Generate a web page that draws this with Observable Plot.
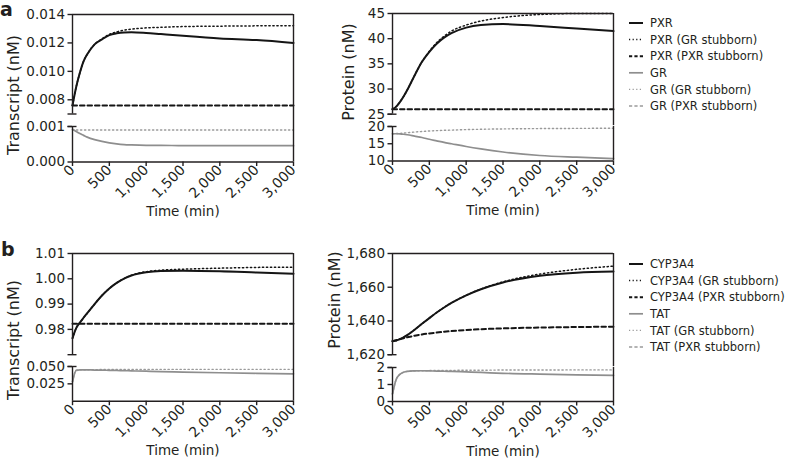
<!DOCTYPE html>
<html><head><meta charset="utf-8">
<script src="https://cdn.jsdelivr.net/npm/d3@7"></script>
<script src="https://cdn.jsdelivr.net/npm/@observablehq/plot@0.6"></script>
<style>
body{margin:0;background:#fff;}
#root{position:relative;width:788px;height:466px;overflow:hidden;font-family:"DejaVu Sans",sans-serif;color:#231f20;}
.ytitle{position:absolute;font-size:16px;white-space:nowrap;transform:translate(-50%,-50%) rotate(-90deg);line-height:1;}
.letter{position:absolute;font-size:19px;font-weight:bold;line-height:1;}
</style></head><body><div id="root"></div>
<script>
// ---------- data ----------
const time = [0, 50, 100, 150, 200, 300, 400, 500, 600, 700, 800, 1000, 1200, 1500, 2000, 2500, 3000];
const timeConst = [0, 3000];
const xTicks = [0, 500, 1000, 1500, 2000, 2500, 3000];

// panel a, transcript
const pxrTranscript    = [0.0076, 0.0089, 0.0099, 0.0107, 0.0112, 0.0119, 0.01225, 0.01255, 0.01268, 0.01274, 0.01275, 0.0127, 0.01262, 0.0125, 0.01232, 0.0122, 0.0120];
const pxrTranscriptGR  = [0.0076, 0.0089, 0.0099, 0.0107, 0.0112, 0.0119, 0.01228, 0.0126, 0.01278, 0.0129, 0.01297, 0.01306, 0.0131, 0.01315, 0.01318, 0.0132, 0.0132];
const pxrTranscriptPXR = [0.0076, 0.0076];
const grTranscript     = [0.00092, 0.00086, 0.0008, 0.00075, 0.0007, 0.00063, 0.00058, 0.00054, 0.00051, 0.00049, 0.00048, 0.00047, 0.00047, 0.00046, 0.00046, 0.00046, 0.00046];
const grTranscriptGR   = [0.0009, 0.0009];
// panel a, protein
const pxrProtein    = [26, 26.5, 27.4, 28.5, 29.8, 32.7, 35.4, 37.4, 39, 40.2, 41.1, 42.2, 42.7, 42.9, 42.5, 42, 41.5];
const pxrProteinGR  = [26, 26.5, 27.4, 28.5, 29.8, 32.7, 35.4, 37.5, 39.2, 40.5, 41.5, 42.7, 43.5, 44.2, 44.8, 45, 45];
const pxrProteinPXR = [26, 26];
const grProtein     = [17.9, 17.9, 17.85, 17.75, 17.6, 17.2, 16.8, 16.3, 15.85, 15.4, 15, 14.2, 13.5, 12.6, 11.6, 11.1, 10.7];
const grProteinGR   = [17.9, 17.95, 18.0, 18.1, 18.2, 18.4, 18.55, 18.7, 18.8, 18.9, 18.95, 19.1, 19.2, 19.3, 19.4, 19.45, 19.5];
// panel b, transcript
const cypTranscript    = [0.9765, 0.9805, 0.9827, 0.9846, 0.9864, 0.99, 0.9934, 0.9962, 0.9984, 1.0001, 1.0013, 1.0026, 1.0031, 1.0032, 1.003, 1.0025, 1.002];
const cypTranscriptGR  = [0.9765, 0.9805, 0.9827, 0.9846, 0.9864, 0.99, 0.9934, 0.9962, 0.9984, 1.0001, 1.0014, 1.0028, 1.0034, 1.0038, 1.0042, 1.0045, 1.0046];
const cypTranscriptPXR = [0.9822, 0.9822];
const tatTranscript    = [0.028, 0.0445, 0.0452, 0.0452, 0.0451, 0.0449, 0.0447, 0.0445, 0.0442, 0.044, 0.0437, 0.0432, 0.0427, 0.042, 0.041, 0.0402, 0.0395];
const tatTranscriptGR  = [0.028, 0.0445, 0.0452, 0.0453, 0.0454, 0.0455, 0.0456, 0.0456, 0.0457, 0.0457, 0.0457, 0.0458, 0.0458, 0.0458, 0.0459, 0.0459, 0.0459];
// panel b, protein
const cypProtein    = [1628, 1628.4, 1629.2, 1630.3, 1631.6, 1634.8, 1638.3, 1641.7, 1645, 1648, 1650.7, 1655.2, 1658.8, 1662.8, 1666.8, 1668.6, 1669.3];
const cypProteinGR  = [1628, 1628.4, 1629.2, 1630.3, 1631.6, 1634.8, 1638.3, 1641.7, 1645, 1648, 1650.7, 1655.2, 1658.9, 1663.2, 1667.8, 1670.6, 1672.5];
const cypProteinPXR = [1628, 1628.6, 1629.2, 1629.8, 1630.3, 1631.2, 1632, 1632.6, 1633.1, 1633.6, 1634, 1634.6, 1635.1, 1635.6, 1636.1, 1636.4, 1636.6];
const tatProtein    = [0.45, 1.3, 1.6, 1.72, 1.77, 1.8, 1.81, 1.8, 1.79, 1.78, 1.77, 1.74, 1.71, 1.66, 1.61, 1.57, 1.54];
const tatProteinGR  = [0.45, 1.3, 1.6, 1.72, 1.77, 1.8, 1.81, 1.82, 1.82, 1.83, 1.83, 1.84, 1.84, 1.85, 1.85, 1.86, 1.86];

const legendA = ["PXR", "PXR (GR stubborn)", "PXR (PXR stubborn)", "GR", "GR (GR stubborn)", "GR (PXR stubborn)"];
const legendB = ["CYP3A4", "CYP3A4 (GR stubborn)", "CYP3A4 (PXR stubborn)", "TAT", "TAT (GR stubborn)", "TAT (PXR stubborn)"];

// ---------- styles ----------
const ink = "#231f20";
const gray = "#8e8e8e";
const styles = {
  blackSolid:  {stroke: "#151515", strokeWidth: 2},
  blackDotted: {stroke: "#151515", strokeWidth: 1.5, strokeDasharray: "1.3,2.7"},
  blackDashed: {stroke: "#151515", strokeWidth: 2, strokeDasharray: "4.5,3"},
  graySolid:   {stroke: gray, strokeWidth: 1.7},
  grayDotted:  {stroke: "#9a9a9a", strokeWidth: 1.4, strokeDasharray: "1.3,2.7"},
  grayDashed:  {stroke: "#9a9a9a", strokeWidth: 1.6, strokeDasharray: "4,3"}
};
const legendStyles = ["blackSolid", "blackDotted", "blackDashed", "graySolid", "grayDotted", "grayDashed"];

const rows = (ts, vs) => ts.map((t, i) => ({t, v: vs[i]}));
const S = (t, v, style) => ({t, v, style});

const panels = [
  { svgLeft: 20, x0: 72, x1: 293,
    title: {text: "Transcript (nM)", x: 14, y: 95},
    up: {top: 13.5, bottom: 113, domain: [0.007, 0.014], ticks: [0.008, 0.010, 0.012, 0.014], fmt: d3.format(".3f"),
         series: [S(timeConst, pxrTranscriptPXR, "blackDashed"), S(time, pxrTranscriptGR, "blackDotted"), S(time, pxrTranscript, "blackSolid")]},
    lo: {top: 125.5, bottom: 161, domain: [0, 0.001], ticks: [0, 0.001], fmt: d3.format(".3f"),
         series: [S(timeConst, grTranscriptGR, "grayDotted"), S(time, grTranscript, "graySolid")]}
  },
  { svgLeft: 330, x0: 392, x1: 613,
    title: {text: "Protein (nM)", x: 349, y: 72},
    up: {top: 13.3, bottom: 114, domain: [25, 45], ticks: [25, 30, 35, 40, 45], fmt: d3.format("d"),
         series: [S(timeConst, pxrProteinPXR, "blackDashed"), S(time, pxrProteinGR, "blackDotted"), S(time, pxrProtein, "blackSolid")]},
    lo: {top: 125.5, bottom: 160, domain: [10, 20], ticks: [10, 15, 20], fmt: d3.format("d"),
         series: [S(time, grProteinGR, "grayDotted"), S(time, grProtein, "graySolid")]}
  },
  { svgLeft: 20, x0: 72, x1: 293,
    title: {text: "Transcript (nM)", x: 14, y: 340},
    up: {top: 253.3, bottom: 354.5, domain: [0.97, 1.01], ticks: [0.98, 0.99, 1.00, 1.01], fmt: d3.format(".2f"),
         series: [S(timeConst, cypTranscriptPXR, "blackDashed"), S(time, cypTranscriptGR, "blackDotted"), S(time, cypTranscript, "blackSolid")]},
    lo: {top: 366.3, bottom: 401, domain: [0, 0.05], ticks: [0.025, 0.05], fmt: d3.format(".3f"),
         series: [S(time, tatTranscriptGR, "grayDotted"), S(time, tatTranscript, "graySolid")]}
  },
  { svgLeft: 330, x0: 392, x1: 613,
    title: {text: "Protein (nM)", x: 335, y: 300},
    up: {top: 253.3, bottom: 354.5, domain: [1620, 1680], ticks: [1620, 1640, 1660, 1680], fmt: d3.format(","),
         series: [S(time, cypProteinPXR, "blackDashed"), S(time, cypProteinGR, "blackDotted"), S(time, cypProtein, "blackSolid")]},
    lo: {top: 366.5, bottom: 400.5, domain: [0, 2], ticks: [0, 1, 2], fmt: d3.format("d"),
         series: [S(time, tatProteinGR, "grayDotted"), S(time, tatProtein, "graySolid")]}
  }
];

const root = document.getElementById("root");

function place(node, left, top) {
  node.style.position = "absolute";
  node.style.left = left + "px";
  node.style.top = top + "px";
  root.appendChild(node);
}

function makeSegment(p, seg, lower) {
  const padTop = 9;
  const padBottom = lower ? 64 : 9;
  const svgWidth = p.x1 + 14 - p.svgLeft;
  const height = seg.bottom - seg.top + padTop + padBottom;
  const gap = p.lo.top - p.up.bottom;
  const marks = [];
  for (const s of seg.series) {
    marks.push(Plot.line(rows(s.t, s.v), {x: "t", y: "v", curve: "monotone-x", ...styles[s.style]}));
  }
  marks.push(Plot.ruleX([0], {stroke: ink, strokeWidth: 1.4}));
  marks.push(Plot.ruleX([3000], {stroke: ink, strokeWidth: 1.4, insetBottom: lower ? 0 : -gap}));
  if (lower) marks.push(Plot.ruleY([seg.domain[0]], {stroke: ink, strokeWidth: 1.4}));
  else marks.push(Plot.ruleY([seg.domain[1]], {stroke: ink, strokeWidth: 1.4}));
  const capY = lower ? seg.domain[1] : seg.domain[0];
  marks.push(Plot.ruleY([capY], {x1: 0, x2: 0, insetLeft: -4.5, insetRight: -4.5, stroke: ink, strokeWidth: 1.4}));
  marks.push(Plot.axisY({ticks: seg.ticks, tickFormat: seg.fmt, tickSize: 4.5, tickPadding: 3, strokeWidth: 1.4, fontSize: 13.5, label: null}));
  if (lower) {
    marks.push(Plot.axisX({ticks: xTicks, tickFormat: d3.format(","), tickRotate: -45, tickSize: 4.5, tickPadding: 1,
      strokeWidth: 1.4, fontSize: 14, label: null}));
    marks.push(Plot.axisX({ticks: [], label: "Time (min)", labelAnchor: "center", labelOffset: 54, labelArrow: "none", fontSize: 13.5}));
  }
  const svg = Plot.plot({
    width: svgWidth, height,
    marginLeft: p.x0 - p.svgLeft, marginRight: svgWidth - (p.x1 - p.svgLeft),
    marginTop: padTop, marginBottom: padBottom,
    x: {domain: [0, 3000], ...(lower ? {} : {axis: null})},
    y: {domain: seg.domain},
    style: {fontFamily: "DejaVu Sans, sans-serif", fontSize: "13px", color: ink, background: "transparent", overflow: "visible"},
    marks
  });
  place(svg, p.svgLeft, seg.top - padTop);
}

for (const p of panels) {
  makeSegment(p, p.up, false);
  makeSegment(p, p.lo, true);
  const t = document.createElement("div");
  t.className = "ytitle";
  t.textContent = p.title.text;
  t.style.left = p.title.x + "px";
  t.style.top = p.title.y + "px";
  root.appendChild(t);
}

// panel letters
for (const [ch, x, y] of [["a", 0, 0], ["b", 1, 240]]) {
  const d = document.createElement("div");
  d.className = "letter";
  d.textContent = ch;
  d.style.left = x + "px"; d.style.top = y + "px";
  root.appendChild(d);
}

// legends
function legend(labels, left, top) {
  const rowH = 16.6;
  const svg = d3.create("svg").attr("width", 788 - left).attr("height", rowH * labels.length + 6)
    .style("overflow", "visible");
  labels.forEach((lab, i) => {
    const st = styles[legendStyles[i]];
    const y = 8 + i * rowH;
    svg.append("line").attr("x1", 4).attr("x2", 18).attr("y1", y).attr("y2", y)
      .attr("stroke", st.stroke).attr("stroke-width", st.strokeWidth)
      .attr("stroke-dasharray", st.strokeDasharray ? (legendStyles[i].includes("Dashed") ? "3.2,2.2" : "1.2,2.4") : null);
    svg.append("text").attr("x", 25).attr("y", y).attr("dy", "0.36em")
      .attr("font-family", "DejaVu Sans, sans-serif").attr("font-size", 11.5).attr("fill", ink).text(lab);
  });
  place(svg.node(), left, top);
}
legend(legendA, 625, 15);
legend(legendB, 625, 255.5);
</script></body></html>
